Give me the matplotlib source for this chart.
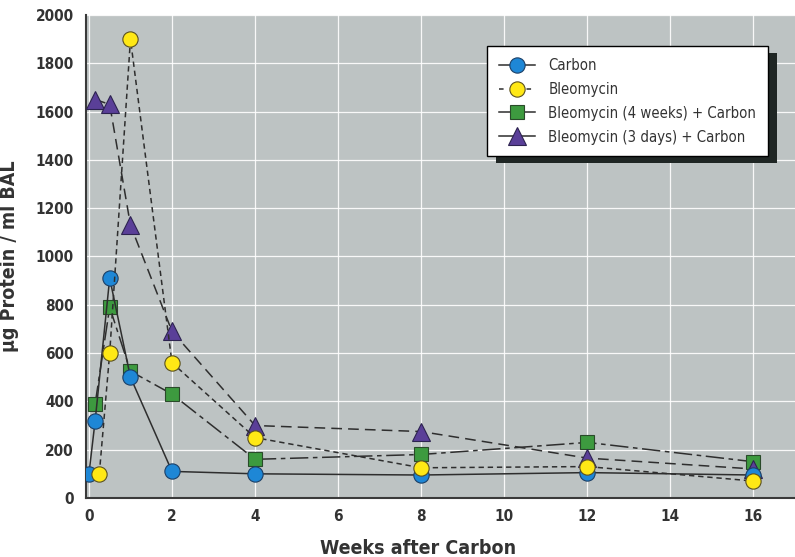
import numpy as np
import matplotlib.pyplot as plt
from matplotlib.lines import Line2D
from matplotlib.patches import Rectangle

plt.rcParams['font.family'] = ['DejaVu Sans']
plt.rcParams['font.stretch'] = 'condensed'

# data (weeks after carbon, ug protein / ml BAL)
carbon_x = [0, 0.15, 0.5, 1, 2, 4, 8, 12, 16]
carbon_y = [100, 320, 910, 500, 110, 100, 95, 105, 95]

bleo_x = [0.25, 0.5, 1, 2, 4, 8, 12, 16]
bleo_y = [100, 600, 1900, 560, 250, 125, 130, 70]

bleo4w_x = [0.15, 0.5, 1, 2, 4, 8, 12, 16]
bleo4w_y = [390, 790, 525, 430, 160, 180, 230, 150]

bleo3d_x = [0.15, 0.5, 1, 2, 4, 8, 12, 16]
bleo3d_y = [1650, 1630, 1130, 690, 300, 275, 165, 120]

labels = ['Carbon', 'Bleomycin', 'Bleomycin (4 weeks) + Carbon',
          'Bleomycin (3 days) + Carbon']

txt = '#333333'
lc = '#2e2e2e'

fig = plt.figure(figsize=(7.95, 5.57), dpi=100)
ax = fig.add_axes([0.1082, 0.106, 0.8918, 0.867])
ax.set_facecolor('#bdc3c3')

ax.plot(bleo4w_x, bleo4w_y, color=lc, lw=1.1, ls=(0, (12, 3, 3, 3)),
        marker='s', ms=9.5, mfc='#3d9a3f', mec='#2a4a2a', mew=0.8, zorder=3)
ax.plot(bleo3d_x, bleo3d_y, color=lc, lw=1.1, ls=(0, (7, 4)),
        marker='^', ms=13, mfc='#5a3f98', mec='#2d2350', mew=0.8, zorder=4)
ax.plot(carbon_x, carbon_y, color=lc, lw=1.1, ls='-',
        marker='o', ms=11, mfc='#1e87d6', mec='#1c3f66', mew=0.8, zorder=5)
ax.plot(bleo_x, bleo_y, color=lc, lw=1.1, ls=(0, (3.5, 2.5)),
        marker='o', ms=11, mfc='#ffe815', mec='#5a5020', mew=0.8, zorder=6)

ax.set_xlim(-0.07, 17.0)
ax.set_ylim(0, 2000)
ax.set_xticks(np.arange(0, 17, 2))
ax.set_yticks(np.arange(0, 2001, 200))
ax.grid(True, color='white', lw=0.9, alpha=0.9)
ax.set_axisbelow(True)
for s in ['top', 'right']:
    ax.spines[s].set_visible(False)
for s in ['left', 'bottom']:
    ax.spines[s].set_color('#3a3a3a')
    ax.spines[s].set_linewidth(1.5)
ax.tick_params(length=0, labelsize=11, labelcolor=txt)
ax.tick_params(axis='y', pad=9)
ax.tick_params(axis='x', pad=8)
for t in ax.get_xticklabels() + ax.get_yticklabels():
    t.set_fontweight('bold')

ax.set_xlabel('Weeks after Carbon', fontsize=14, fontweight='bold', color=txt)
ax.xaxis.set_label_coords(0.468, -0.085)
ax.set_ylabel('\u00b5g Protein / ml BAL', fontsize=14, fontweight='bold', color=txt)
ax.yaxis.set_label_coords(-0.095, 0.5)

handles = [
    Line2D([], [], color=lc, lw=1.1, ls='-', marker='o', ms=11,
           mfc='#1e87d6', mec='#1c3f66', mew=0.8),
    Line2D([], [], color=lc, lw=1.1, ls=(0, (3, 6)), marker='o', ms=11,
           mfc='#ffe815', mec='#5a5020', mew=0.8),
    Line2D([], [], color=lc, lw=1.1, ls='-', marker='s', ms=9.5,
           mfc='#3d9a3f', mec='#2a4a2a', mew=0.8),
    Line2D([], [], color=lc, lw=1.1, ls='-', marker='^', ms=13,
           mfc='#5a3f98', mec='#2d2350', mew=0.8),
]
leg = ax.legend(handles, labels, loc='upper left', bbox_to_anchor=(0.566, 0.936),
                borderaxespad=0, fancybox=False, framealpha=1, edgecolor='black',
                fontsize=10.7, handlelength=2.4, handletextpad=0.9,
                labelspacing=0.6, borderpad=0.8)
leg.get_frame().set_linewidth(1.0)
leg.set_zorder(10)
for t in leg.get_texts():
    t.set_color(txt)

# dark offset shadow behind the legend box
fig.canvas.draw()
bb = leg.get_frame().get_window_extent()
inv = ax.transAxes.inverted()
(x0, y0) = inv.transform((bb.x0 + 9, bb.y0 - 7))
(x1, y1) = inv.transform((bb.x1 + 9, bb.y1 - 7))
ax.add_patch(Rectangle((x0, y0), x1 - x0, y1 - y0, transform=ax.transAxes,
                       facecolor='#1f2624', edgecolor='none', clip_on=False,
                       zorder=9))

fig.savefig('out.png', dpi=100)
